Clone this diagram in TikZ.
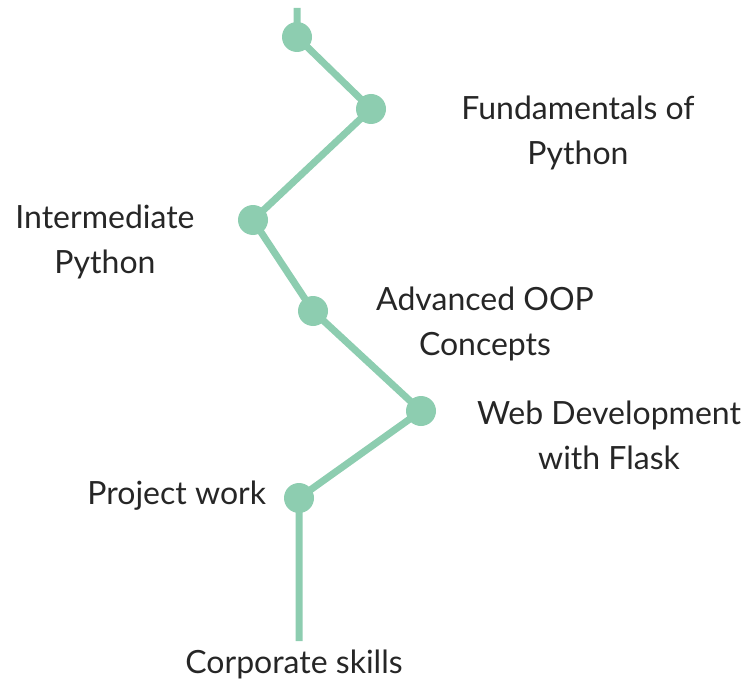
\documentclass[tikz,border=0pt]{standalone}
\usepackage{fontspec}
\setmainfont{Lato}
\definecolor{mint}{HTML}{8DCDB0}
\begin{document}
\begin{tikzpicture}[x=1pt,y=-1pt,inner sep=0pt,outer sep=0pt,
dot/.style={circle,fill=mint,minimum size=30pt},
lbl/.style={align=center,font=\fontsize{32}{45}\selectfont,text=black!85},
link/.style={draw=mint,line width=7pt}]
\useasboundingbox (0,0) rectangle (749,679);
\coordinate (top) at (297,8);
\coordinate (bottom) at (299,641);
\draw (297,37) node[dot] (start) {};
\draw (371,109) node[dot] (fund) {};
\draw (253,220) node[dot] (inter) {};
\draw (313,311) node[dot] (oop) {};
\draw (421,411) node[dot] (flask) {};
\draw (299,498) node[dot] (proj) {};
\begin{scope}[on background layer/.try]
\draw[link] (top) -- (start.center) -- (fund.center) -- (inter.center) -- (oop.center)
  -- (flask.center) -- (proj.center) -- (bottom);
\end{scope}
\draw (578,133) node[lbl] (fundlbl) {Fundamentals of\\Python};
\draw (105,242) node[lbl] (interlbl) {Intermediate\\Python};
\draw (485,324) node[lbl] (ooplbl) {Advanced OOP\\Concepts};
\draw (609,435) node[lbl] (flasklbl) {Web Development\\with Flask};
\draw (266,496) node[lbl,anchor=east] (projlbl) {Project work};
\draw (294,664) node[lbl] (corplbl) {Corporate skills};
\end{tikzpicture}
\end{document}
